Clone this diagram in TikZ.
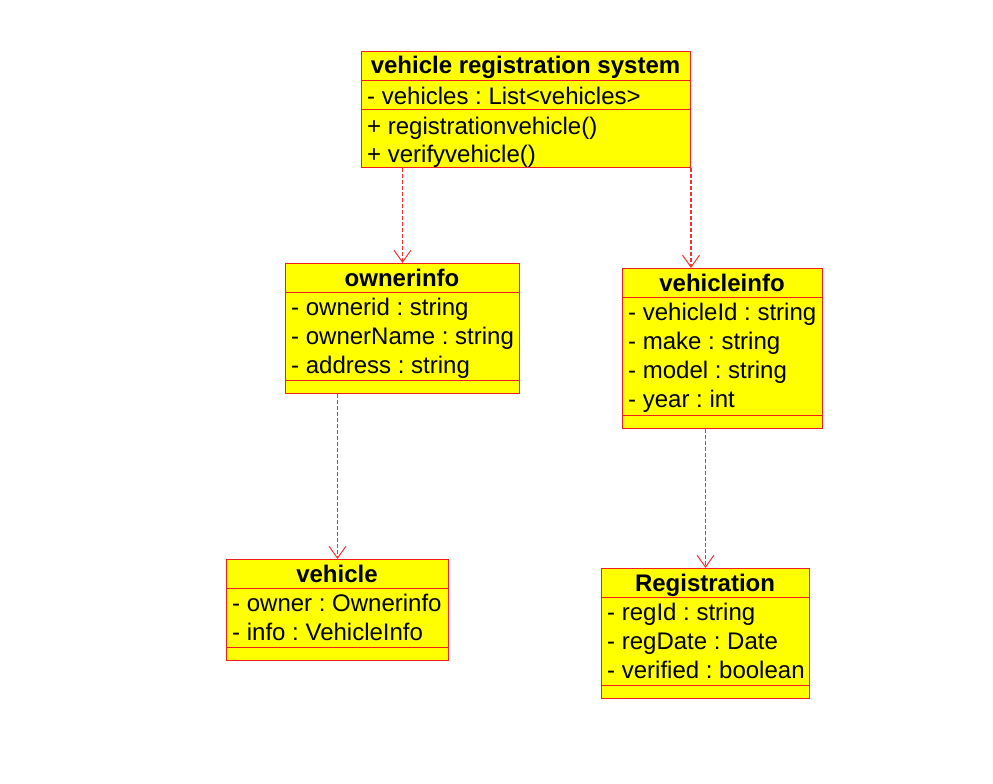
\documentclass[tikz,border=0pt]{standalone}
\usepackage{fontspec}
\setmainfont{Liberation Sans}
\usepackage{xcolor}
\usetikzlibrary{arrows.meta,positioning}
\frenchspacing

\definecolor{clsline}{RGB}{240,30,30}
\definecolor{clsfill}{RGB}{255,255,0}
\definecolor{depline}{RGB}{245,50,50}

\begin{document}
\begin{tikzpicture}[
  x=1pt,y=-1pt,
  font=\fontsize{24}{28}\selectfont,
  cls/.style={draw=clsline,fill=clsfill,line width=1pt,inner sep=0pt,anchor=north west},
  sep/.style={draw=clsline,line width=1pt},
  ctitle/.style={anchor=base,inner sep=0pt,font=\fontsize{24}{28}\selectfont\bfseries},
  member/.style={anchor=base west,inner sep=0pt},
  dep/.style={draw=depline,line width=1.1pt,dash pattern=on 4pt off 2pt,
    -{Straight Barb[length=12pt,width=17pt,line width=1pt]}},
]
\useasboundingbox (0,0) rectangle (993,784);

% class boxes
\node[cls,minimum width=329pt,minimum height=116pt] (sys) at (361,51) {};
\node[cls,minimum width=234pt,minimum height=130pt] (owner) at (285,263) {};
\node[cls,minimum width=200pt,minimum height=160pt] (vinfo) at (622,268) {};
\node[cls,minimum width=222pt,minimum height=101pt] (veh) at (226,559) {};
\node[cls,minimum width=208pt,minimum height=130pt] (reg) at (601,568) {};

% compartments
\draw[sep] ([yshift=-29pt]sys.north west) -- ([yshift=-29pt]sys.north east);
\draw[sep] ([yshift=-58pt]sys.north west) -- ([yshift=-58pt]sys.north east);
\draw[sep] ([yshift=-29pt]owner.north west) -- ([yshift=-29pt]owner.north east);
\draw[sep] ([yshift=14pt]owner.south west) -- ([yshift=14pt]owner.south east);
\draw[sep] ([yshift=-29pt]vinfo.north west) -- ([yshift=-29pt]vinfo.north east);
\draw[sep] ([yshift=14pt]vinfo.south west) -- ([yshift=14pt]vinfo.south east);
\draw[sep] ([yshift=-29pt]veh.north west) -- ([yshift=-29pt]veh.north east);
\draw[sep] ([yshift=14pt]veh.south west) -- ([yshift=14pt]veh.south east);
\draw[sep] ([yshift=-29pt]reg.north west) -- ([yshift=-29pt]reg.north east);
\draw[sep] ([yshift=14pt]reg.south west) -- ([yshift=14pt]reg.south east);

% vehicle registration system
\node[ctitle] (sysT) at (525.5,74) {vehicle registration system};
\node[member] (sysA) at (367,104) {- vehicles : List<vehicles>};
\node[member] (sysM1) at (367,134) {+ registrationvehicle()};
\node[member] (sysM2) at (367,162) {+ verifyvehicle()};

% ownerinfo
\node[ctitle] (ownerT) at (402,286) {ownerinfo};
\node[member] (ownerA1) at (291,315) {- ownerid : string};
\node[member] (ownerA2) at (291,344) {- ownerName : string};
\node[member] (ownerA3) at (291,373) {- address : string};

% vehicleinfo
\node[ctitle] (vinfoT) at (722,291) {vehicleinfo};
\node[member] (vinfoA1) at (628,320) {- vehicleId : string};
\node[member] (vinfoA2) at (628,349) {- make : string};
\node[member] (vinfoA3) at (628,378) {- model : string};
\node[member] (vinfoA4) at (628,407) {- year : int};

% vehicle
\node[ctitle] (vehT) at (337,582) {vehicle};
\node[member] (vehA1) at (232,611) {- owner : Ownerinfo};
\node[member] (vehA2) at (232,640) {- info : VehicleInfo};

% Registration
\node[ctitle] (regT) at (705,591) {Registration};
\node[member] (regA1) at (607,620) {- regId : string};
\node[member] (regA2) at (607,649) {- regDate : Date};
\node[member] (regA3) at (607,678) {- verified : boolean};

% dependencies
\draw[dep] (owner.north |- sys.south) -- (owner.north);
\draw[dep] (sys.south east) -- (sys.south east |- vinfo.north);
\draw[dep] (veh.north |- owner.south) -- (veh.north);
\draw[dep] (reg.north |- vinfo.south) -- (reg.north);
\end{tikzpicture}
\end{document}
